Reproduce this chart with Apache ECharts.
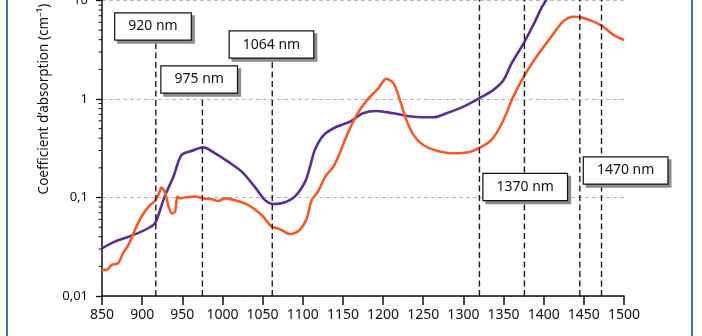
<!DOCTYPE html>
<html>
<head>
<meta charset="utf-8">
<script src="https://cdn.jsdelivr.net/npm/echarts@6/dist/echarts.min.js"></script>
<style>
html,body{margin:0;padding:0;background:#fff;}
#c{width:702px;height:336px;}
</style>
</head>
<body>
<div id="c"></div>
<script>
// ---- data ----
const xTicks = [850, 900, 950, 1000, 1050, 1100, 1150, 1200, 1250, 1300, 1350, 1400, 1450, 1500];
const yTickLabels = {0.01: '0,01', 0.1: '0,1', 1: '1', 10: '10', 100: '100'};

const purpleWl = [850, 866, 883, 899, 914, 918, 928, 939, 949, 962, 976, 991, 1007, 1024, 1040, 1053, 1063, 1076, 1090, 1103, 1109, 1115, 1126, 1142, 1159, 1175, 1192, 1213, 1238, 1263, 1279, 1300, 1321, 1337, 1350, 1360, 1375, 1387, 1398, 1403, 1410];
const purpleVal = [0.0305, 0.0356, 0.040, 0.045, 0.0526, 0.059, 0.102, 0.163, 0.27, 0.298, 0.323, 0.281, 0.231, 0.183, 0.129, 0.094, 0.086, 0.0885, 0.102, 0.145, 0.205, 0.303, 0.43, 0.523, 0.589, 0.716, 0.755, 0.716, 0.66, 0.652, 0.716, 0.836, 1.03, 1.23, 1.56, 2.30, 3.67, 5.64, 8.65, 10.1, 14];

const orangeWl = [850, 856, 862, 870, 876, 883, 891, 899, 908, 916, 921, 924, 928, 933, 937, 941, 944, 947, 953, 966, 976, 987, 995, 1003, 1016, 1032, 1049, 1061, 1072, 1084, 1096, 1105, 1111, 1119, 1128, 1138, 1146, 1155, 1167, 1180, 1194, 1204, 1213, 1221, 1229, 1238, 1250, 1267, 1288, 1308, 1321, 1335, 1348, 1362, 1375, 1391, 1408, 1424, 1437, 1447, 1462, 1474, 1487, 1500];
const orangeVal = [0.0184, 0.0184, 0.0207, 0.0215, 0.0271, 0.033, 0.0468, 0.0638, 0.0807, 0.0927, 0.110, 0.126, 0.115, 0.0807, 0.069, 0.072, 0.102, 0.098, 0.1, 0.102, 0.098, 0.096, 0.092, 0.098, 0.094, 0.084, 0.066, 0.051, 0.0475, 0.0426, 0.0468, 0.0615, 0.094, 0.115, 0.163, 0.205, 0.281, 0.43, 0.687, 0.975, 1.28, 1.60, 1.44, 0.975, 0.612, 0.43, 0.341, 0.299, 0.281, 0.29, 0.322, 0.384, 0.567, 1.05, 1.68, 2.69, 4.13, 6.1, 6.85, 6.74, 6.1, 5.42, 4.47, 3.97];

// vertical marker lines (wavelength, top value)
const markWl = [917, 975, 1062, 1320, 1376, 1445, 1472];
const markTop = [5.45, 1.58, 3.57, 100, 100, 100, 100];

// label boxes
const boxText = ['920 nm', '975 nm', '1064 nm', '1370 nm', '1470 nm'];
const boxWl = [913.5, 971, 1061, 1377, 1502];
const boxVal = [5.45, 1.58, 3.57, 0.128, 0.188];

// ---- build ----
const FONT = 'Noto Sans';
const purpleData = purpleWl.map((w, i) => [w, purpleVal[i]]);
const orangeData = orangeWl.map((w, i) => [w, orangeVal[i]]);
const markData = [];
markWl.forEach((w, i) => {
  markData.push([w, 0.01]);
  markData.push([w, markTop[i]]);
  markData.push([w, '-']);
});
const boxData = boxText.map((t, i) => ({value: [boxWl[i], boxVal[i]], name: t}));

const boxLabel = {
  show: true, position: 'inside', formatter: p => p.name,
  fontSize: 14, color: '#111', fontFamily: FONT, opacity: 1,
  backgroundColor: '#fff', borderColor: '#111', borderWidth: 1.2,
  padding: [5, 13, 4, 13], lineHeight: 17
};

const chart = echarts.init(document.getElementById('c'), null, {renderer: 'canvas'});
const option = {
  animation: false,
  backgroundColor: '#fff',
  textStyle: {fontFamily: FONT},
  grid: {left: 102, right: 78, top: -98, height: 394, containLabel: false, outerBoundsMode: 'none'},
  xAxis: {
    type: 'value', min: 850, max: 1500, interval: 50,
    axisLine: {show: true, lineStyle: {color: '#111', width: 1.5}},
    axisTick: {show: true, inside: false, length: 9, lineStyle: {color: '#111', width: 1.5}},
    axisLabel: {fontSize: 14, color: '#111', margin: 12, fontFamily: FONT,
      formatter: v => xTicks.indexOf(v) >= 0 ? String(v) : ''},
    splitLine: {show: false}
  },
  yAxis: {
    type: 'log', logBase: 10, min: 0.01, max: 100,
    name: 'Coefficient d\u2019absorption (cm\u207B\u00B9)',
    nameLocation: 'middle', nameGap: 42, nameRotate: 90,
    nameTextStyle: {fontSize: 13.5, color: '#111', fontFamily: FONT},
    axisLine: {show: true, lineStyle: {color: '#111', width: 1.5}},
    axisTick: {show: true, inside: false, length: 6, lineStyle: {color: '#111', width: 1.3}},
    axisLabel: {fontSize: 13, color: '#111', margin: 14, fontFamily: FONT,
      formatter: v => yTickLabels[v] !== undefined ? yTickLabels[v] : String(v).replace('.', ',')},
    splitLine: {show: true, lineStyle: {color: '#b8b8b8', width: 1, type: [4, 3]}}
  },
  series: [
    {
      type: 'line', data: purpleData, smooth: 0.3, symbol: 'none', z: 2,
      lineStyle: {color: '#5c2d91', width: 2.6}, clip: true
    },
    {
      type: 'line', data: orangeData, smooth: 0.3, symbol: 'none', z: 2,
      lineStyle: {color: '#f15a29', width: 2.6}, clip: true
    },
    {
      type: 'line', data: markData, symbol: 'none', z: 3, connectNulls: false,
      lineStyle: {color: '#1a1a1a', width: 1.4, type: [6, 3.5]}, clip: true
    },
    {
      // drop shadows of label boxes
      type: 'scatter', data: boxData, symbol: 'rect', symbolSize: 1, z: 5, clip: false,
      itemStyle: {color: 'rgba(0,0,0,0)', opacity: 1},
      label: Object.assign({}, boxLabel, {
        offset: [3, 3], color: 'rgba(0,0,0,0)', backgroundColor: '#8c8c8c', borderColor: '#8c8c8c'
      })
    },
    {
      type: 'scatter', data: boxData, symbol: 'rect', symbolSize: 1, z: 6, clip: false,
      itemStyle: {color: 'rgba(0,0,0,0)', opacity: 1},
      label: boxLabel
    }
  ]
};
chart.setOption(option);

// log minor ticks + frame lines
const axisX = chart.convertToPixel({xAxisIndex: 0}, 850);
const g = [];
[0.01, 0.1, 1, 10].forEach(d => {
  for (let k = 2; k <= 9; k++) {
    const y = chart.convertToPixel({yAxisIndex: 0}, d * k);
    g.push({type: 'line', shape: {x1: axisX - 3.5, y1: y, x2: axisX, y2: y},
      style: {stroke: '#111', lineWidth: 1}, z: 10, silent: true});
  }
});
g.push({type: 'rect', shape: {x: 6, y: 0, width: 2, height: 336}, style: {fill: '#3b6fb6'}, z: 20});
g.push({type: 'rect', shape: {x: 691, y: 0, width: 2, height: 336}, style: {fill: '#3b6fb6'}, z: 20});
chart.setOption({graphic: g});
</script>
</body>
</html>
